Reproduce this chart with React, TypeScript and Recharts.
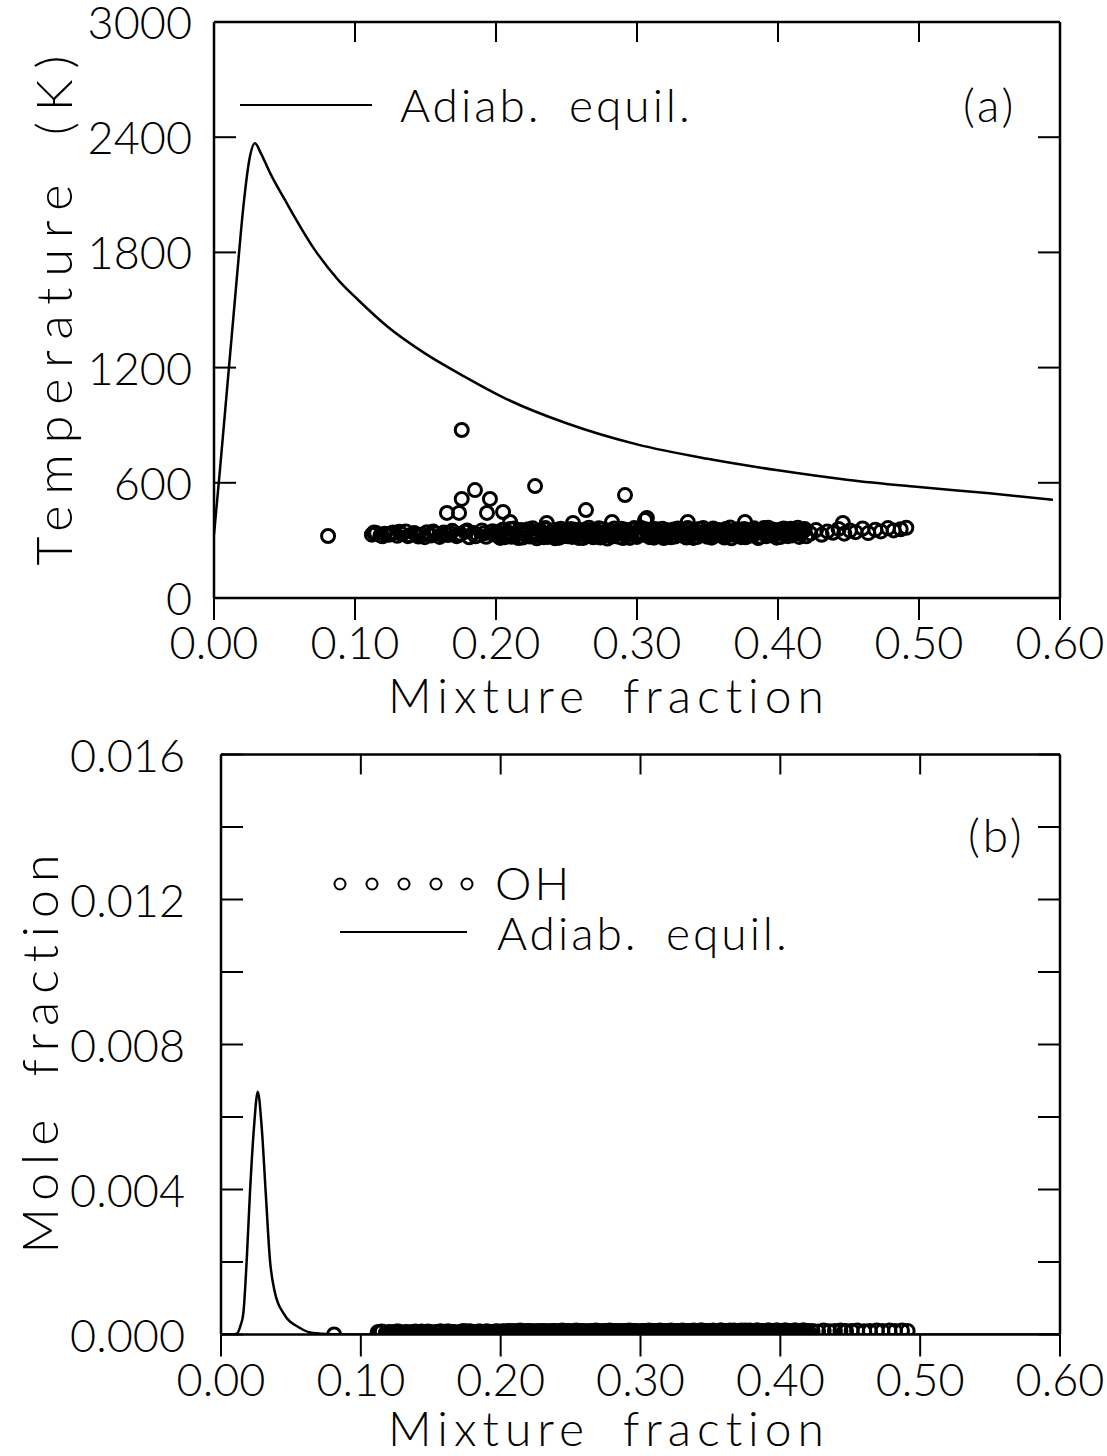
import { ComposedChart, Line, Scatter, XAxis, YAxis } from 'recharts';

const FONT = "Lato, 'DejaVu Sans', sans-serif";
const INK = '#000';

// axis ticks
const zTicks = [0, 0.1, 0.2, 0.3, 0.4, 0.5, 0.6];
const tempTicks = [0, 600, 1200, 1800, 2400, 3000];
const moleTicks = [0, 0.002, 0.004, 0.006, 0.008, 0.01, 0.012, 0.014, 0.016];
const moleLabelTicks = [0, 0.004, 0.008, 0.012, 0.016];

// (a) adiabatic equilibrium temperature [mixture fraction, K]
const tempEquil: [number, number][] = [
  [0, 330], [0.004, 650], [0.01, 1150], [0.016, 1650], [0.021, 2050],
  [0.025, 2280], [0.0291, 2368], [0.033, 2320], [0.04, 2210], [0.0504, 2072],
  [0.0716, 1812], [0.0882, 1656], [0.1023, 1552], [0.1236, 1410], [0.1496, 1274],
  [0.178, 1152], [0.2064, 1040], [0.25, 910], [0.3, 800], [0.35, 725],
  [0.4, 665], [0.45, 615], [0.5, 578], [0.55, 545], [0.595, 512],
];

// (b) adiabatic equilibrium OH [mixture fraction, mole fraction]
const ohEquil: [number, number][] = [
  [0, 0], [0.008, 0], [0.0112, 0.00002], [0.014, 0.00025], [0.016, 0.00059],
  [0.0184, 0.00206], [0.0207, 0.0039], [0.0236, 0.00572], [0.0263, 0.0067],
  [0.0291, 0.00572], [0.032, 0.0039], [0.035, 0.00206], [0.0386, 0.00115],
  [0.0446, 0.00059], [0.0565, 0.00018], [0.0658, 0.00004], [0.08, 0.00001],
  [0.1, 0], [0.6, 0],
];

// measured samples [mixture fraction, temperature K, OH mole fraction]
const samples: [number, number, number][] = [
  [0.0809, 323, 0],
  [0.1757, 875, 0.00007], [0.2277, 583, 0.00008], [0.1851, 562, 0.00006], [0.1757, 516, 0.00008],
  [0.1957, 516, 0.00007], [0.1652, 443, 0.00006], [0.1738, 443, 0.00009], [0.1936, 443, 0.00007],
  [0.205, 448, 0.00008], [0.2915, 536, 0.00009], [0.2638, 458, 0.00008], [0.236, 391, 0.00007],
  [0.2546, 391, 0.00009], [0.2823, 396, 0.00008], [0.3057, 406, 0.0001], [0.21, 396, 0.00006],
  [0.307, 417, 0.00009], [0.336, 396, 0.0001], [0.3766, 396, 0.00009], [0.446, 391, 0.0001],

  [0.112, 330, 0.00006], [0.115, 338, 0.00008], [0.118, 326, 0.00005], [0.121, 335, 0.00007],
  [0.124, 329, 0.00006], [0.127, 341, 0.00008], [0.13, 324, 0.00005], [0.133, 333, 0.00007],
  [0.136, 347, 0.00006], [0.139, 327, 0.00008], [0.142, 338, 0.00007], [0.145, 320, 0.00005],
  [0.148, 331, 0.00008], [0.151, 343, 0.00006], [0.154, 325, 0.00007], [0.157, 336, 0.00009],
  [0.16, 318, 0.00006], [0.163, 341, 0.00008], [0.166, 328, 0.00007], [0.169, 350, 0.00005],
  [0.172, 322, 0.00008], [0.175, 334, 0.00006], [0.178, 345, 0.00009], [0.181, 316, 0.00007],
  [0.184, 338, 0.00008], [0.187, 327, 0.00006], [0.19, 352, 0.00009], [0.193, 319, 0.00007],
  [0.196, 340, 0.00008], [0.199, 330, 0.00006],
  [0.1135, 341, 0.00007], [0.1195, 321, 0.00006], [0.1255, 336, 0.00008], [0.1315, 345, 0.00006],
  [0.1375, 322, 0.00007], [0.1435, 332, 0.00008], [0.1495, 317, 0.00006], [0.1555, 346, 0.00007],
  [0.1615, 330, 0.00008], [0.1675, 339, 0.00006], [0.1735, 327, 0.00009], [0.1795, 351, 0.00007],
  [0.1855, 321, 0.00008], [0.1915, 337, 0.00006], [0.1975, 348, 0.00009],

  [0.201, 344, 0.00008], [0.203, 313, 0.00007], [0.205, 356, 0.00009], [0.207, 327, 0.00006],
  [0.209, 338, 0.0001], [0.211, 319, 0.00008], [0.213, 362, 0.00007], [0.215, 333, 0.00009],
  [0.217, 348, 0.00006], [0.219, 315, 0.0001], [0.221, 340, 0.00008], [0.223, 358, 0.00007],
  [0.225, 324, 0.00009], [0.227, 345, 0.00008], [0.229, 311, 0.00006], [0.231, 352, 0.0001],
  [0.233, 330, 0.00007], [0.235, 364, 0.00009], [0.237, 318, 0.00008], [0.239, 341, 0.0001],
  [0.241, 326, 0.00007], [0.243, 355, 0.00009], [0.245, 314, 0.00006], [0.247, 337, 0.00008],
  [0.249, 349, 0.0001], [0.251, 321, 0.00007], [0.253, 360, 0.00009], [0.255, 332, 0.00008],
  [0.257, 346, 0.0001], [0.259, 312, 0.00007], [0.261, 339, 0.00009], [0.263, 357, 0.00006],
  [0.265, 323, 0.00008], [0.267, 350, 0.0001], [0.269, 316, 0.00007], [0.271, 336, 0.00009],
  [0.273, 363, 0.00008], [0.275, 328, 0.0001], [0.277, 343, 0.00007], [0.279, 310, 0.00009],
  [0.281, 353, 0.00008], [0.283, 331, 0.00006], [0.285, 347, 0.0001], [0.287, 319, 0.00008],
  [0.289, 361, 0.00009], [0.291, 334, 0.00007], [0.293, 344, 0.0001], [0.295, 313, 0.00008],
  [0.297, 356, 0.00009], [0.299, 325, 0.00007], [0.301, 340, 0.0001], [0.303, 365, 0.00008],
  [0.305, 329, 0.00009], [0.307, 351, 0.00007], [0.309, 317, 0.0001], [0.311, 338, 0.00008],
  [0.313, 359, 0.00009], [0.315, 322, 0.0001], [0.317, 345, 0.00007], [0.319, 312, 0.00009],
  [0.321, 354, 0.00008], [0.323, 333, 0.0001], [0.325, 348, 0.00007], [0.327, 320, 0.00009],
  [0.329, 362, 0.00008], [0.331, 327, 0.0001], [0.333, 342, 0.00009], [0.335, 315, 0.00007],
  [0.337, 357, 0.0001], [0.339, 335, 0.00008], [0.341, 350, 0.00009], [0.343, 318, 0.00011],
  [0.345, 339, 0.00008], [0.347, 364, 0.0001], [0.349, 326, 0.00009], [0.351, 346, 0.00007],
  [0.353, 314, 0.0001], [0.355, 355, 0.00008], [0.357, 332, 0.00011], [0.359, 349, 0.00009],
  [0.361, 321, 0.0001], [0.363, 360, 0.00008], [0.365, 337, 0.00009], [0.367, 311, 0.00011],
  [0.369, 344, 0.00008], [0.371, 358, 0.0001], [0.373, 324, 0.00009], [0.375, 347, 0.00011],
  [0.377, 316, 0.00008], [0.379, 353, 0.0001], [0.381, 330, 0.00009], [0.383, 363, 0.00011],
  [0.385, 341, 0.00008], [0.387, 319, 0.0001], [0.389, 352, 0.00009], [0.391, 334, 0.00011],
  [0.393, 366, 0.0001], [0.395, 327, 0.00008], [0.397, 345, 0.00011], [0.399, 314, 0.00009],
  [0.401, 356, 0.0001], [0.403, 338, 0.00011], [0.405, 349, 0.00008], [0.407, 322, 0.0001],
  [0.409, 361, 0.00009], [0.411, 335, 0.00011], [0.413, 351, 0.0001], [0.415, 318, 0.00008],
  [0.417, 343, 0.00011], [0.419, 359, 0.00009],

  [0.202, 329, 0.00009], [0.204, 351, 0.00007], [0.206, 317, 0.0001], [0.208, 342, 0.00008],
  [0.21, 360, 0.00006], [0.212, 325, 0.00009], [0.214, 339, 0.00011], [0.216, 312, 0.00007],
  [0.218, 354, 0.00009], [0.22, 331, 0.00008], [0.222, 347, 0.0001], [0.224, 320, 0.00007],
  [0.226, 363, 0.00009], [0.228, 336, 0.00008], [0.23, 326, 0.0001], [0.232, 343, 0.00006],
  [0.234, 316, 0.00009], [0.236, 357, 0.00008], [0.238, 333, 0.0001], [0.24, 350, 0.00007],
  [0.242, 311, 0.00009], [0.244, 340, 0.00011], [0.246, 361, 0.00008], [0.248, 323, 0.0001],
  [0.25, 345, 0.00007], [0.252, 334, 0.00009], [0.254, 318, 0.00011], [0.256, 355, 0.00008],
  [0.258, 328, 0.0001], [0.26, 348, 0.00009], [0.262, 313, 0.00007], [0.264, 341, 0.0001],
  [0.266, 366, 0.00008], [0.268, 324, 0.00011], [0.27, 352, 0.00009], [0.272, 337, 0.00007],
  [0.274, 315, 0.0001], [0.276, 358, 0.00008], [0.278, 330, 0.00011], [0.28, 346, 0.00009],
  [0.282, 320, 0.0001], [0.284, 362, 0.00008], [0.286, 335, 0.00007], [0.288, 349, 0.0001],
  [0.29, 312, 0.00009], [0.292, 356, 0.00011], [0.294, 328, 0.00008], [0.296, 339, 0.0001],
  [0.298, 364, 0.00009], [0.3, 318, 0.00007], [0.302, 347, 0.0001], [0.304, 333, 0.00008],
  [0.306, 358, 0.00011], [0.308, 326, 0.00009], [0.31, 342, 0.0001], [0.312, 314, 0.00008],
  [0.314, 351, 0.00011], [0.316, 337, 0.00009], [0.318, 361, 0.0001], [0.32, 323, 0.00008],
  [0.322, 345, 0.00011], [0.324, 316, 0.00009], [0.326, 357, 0.0001], [0.328, 340, 0.00008],
  [0.33, 330, 0.00011], [0.332, 353, 0.00009], [0.334, 321, 0.0001], [0.336, 365, 0.00008],
  [0.338, 344, 0.00011], [0.34, 313, 0.00009], [0.342, 336, 0.0001], [0.344, 359, 0.00011],
  [0.346, 327, 0.00008], [0.348, 348, 0.0001], [0.35, 319, 0.00009], [0.352, 341, 0.00011],
  [0.354, 362, 0.0001], [0.356, 325, 0.00008], [0.358, 354, 0.00011], [0.36, 334, 0.00009],
  [0.362, 315, 0.0001], [0.364, 346, 0.00011], [0.366, 367, 0.00009], [0.368, 329, 0.0001],
  [0.37, 351, 0.00008], [0.372, 338, 0.00011], [0.374, 317, 0.00009], [0.376, 360, 0.0001],
  [0.378, 343, 0.00011], [0.38, 324, 0.00009], [0.382, 355, 0.0001], [0.384, 336, 0.00011],
  [0.386, 312, 0.00008], [0.388, 348, 0.0001], [0.39, 364, 0.00009], [0.392, 322, 0.00011],
  [0.394, 340, 0.0001], [0.396, 357, 0.00009], [0.398, 331, 0.00011], [0.4, 346, 0.0001],
  [0.402, 318, 0.00008], [0.404, 362, 0.00011], [0.406, 337, 0.00009], [0.408, 353, 0.0001],
  [0.41, 326, 0.00011], [0.412, 344, 0.00009], [0.414, 366, 0.0001], [0.416, 333, 0.00011],
  [0.418, 349, 0.00009], [0.42, 321, 0.0001],

  [0.423, 336, 0.0001], [0.427, 354, 0.00008], [0.431, 329, 0.00011], [0.435, 347, 0.00009],
  [0.439, 340, 0.0001], [0.443, 360, 0.00011], [0.447, 335, 0.00009], [0.451, 351, 0.0001],
  [0.455, 343, 0.00011], [0.46, 362, 0.00009], [0.464, 338, 0.0001], [0.469, 356, 0.00011],
  [0.473, 347, 0.0001], [0.478, 364, 0.00011], [0.482, 352, 0.0001], [0.487, 358, 0.00011],
  [0.491, 366, 0.0001],
];

const curveRows = (pts: [number, number][]) => pts.map(([z, v]) => ({ z, v }));
const tempRows = samples.map(([z, t]) => ({ z, v: t }));
const ohRows = samples.map(([z, , oh]) => ({ z, v: oh }));

const TICK_TEXT = { fontFamily: FONT, fontWeight: 300, fontSize: 45, fill: INK };
const TITLE_TEXT = { fontFamily: FONT, fontWeight: 300, fontSize: 48, fill: INK, letterSpacing: 6, wordSpacing: 14 };
const VTITLE_TEXT = { ...TITLE_TEXT, fontSize: 50, letterSpacing: 11 };
const LEGEND_TEXT = { fontFamily: FONT, fontWeight: 300, fontSize: 46, fill: INK, letterSpacing: 3, wordSpacing: 12 };

// ticks: bottom ones hang below the frame, the rest point into the plot
function XBottomTick({ x, y, payload }: any) {
  return (
    <g>
      <line x1={x} y1={y} x2={x} y2={y + 22} stroke={INK} strokeWidth={2} />
      <text x={x} y={y + 61} textAnchor="middle" style={TICK_TEXT}>{payload.value.toFixed(2)}</text>
    </g>
  );
}

function XTopTick({ x, y }: any) {
  return <line x1={x} y1={y} x2={x} y2={y + 20} stroke={INK} strokeWidth={2} />;
}

function makeYLeftTick(labels: number[] | null, digits: number, gap: number) {
  return function YLeftTick({ x, y, payload }: any) {
    const show = !labels || labels.some((l) => Math.abs(l - payload.value) < 1e-9);
    return (
      <g>
        <line x1={x} y1={y} x2={x + 22} y2={y} stroke={INK} strokeWidth={2} />
        {show && (
          <text x={x - gap} y={y + 17} textAnchor="end" style={TICK_TEXT}>
            {payload.value.toFixed(digits)}
          </text>
        )}
      </g>
    );
  };
}

function YRightTick({ x, y }: any) {
  return <line x1={x} y1={y} x2={x - 22} y2={y} stroke={INK} strokeWidth={2} />;
}

const openCircle = (r: number) => (props: any) =>
  <circle cx={props.cx} cy={props.cy} r={r} fill="none" stroke={INK} strokeWidth={3} />;

const AXIS = { stroke: INK, strokeWidth: 2.5 };

function Panel({ top, height, topAxisHeight, margin, yDomain, yTicks, yTick, curve, points }: any) {
  return (
    <div style={{ position: 'absolute', left: 0, top, width: 1107, height }}>
      <ComposedChart width={1107} height={height} margin={margin}>
        <XAxis
          xAxisId="b" dataKey="z" type="number" domain={[0, 0.6]} ticks={zTicks} interval={0}
          allowDataOverflow orientation="bottom" height={30} tickSize={0} tickMargin={0}
          axisLine={AXIS} tickLine={false} tick={<XBottomTick />}
        />
        <XAxis
          xAxisId="t" dataKey="z" type="number" domain={[0, 0.6]} ticks={zTicks} interval={0}
          allowDataOverflow orientation="top" height={topAxisHeight} tickSize={0} tickMargin={0}
          axisLine={AXIS} tickLine={false} tick={<XTopTick />}
        />
        <YAxis
          yAxisId="l" type="number" domain={yDomain} ticks={yTicks} interval={0} allowDataOverflow
          orientation="left" width={20} tickSize={0} tickMargin={0}
          axisLine={AXIS} tickLine={false} tick={yTick}
        />
        <YAxis
          yAxisId="r" type="number" domain={yDomain} ticks={yTicks} interval={0} allowDataOverflow
          orientation="right" width={20} tickSize={0} tickMargin={0}
          axisLine={AXIS} tickLine={false} tick={<YRightTick />}
        />
        <Line
          xAxisId="b" yAxisId="l" data={curveRows(curve)} dataKey="v" type="monotone"
          stroke={INK} strokeWidth={2.5} dot={false} isAnimationActive={false}
        />
        <Scatter
          xAxisId="b" yAxisId="l" data={points} dataKey="v"
          shape={openCircle(6.5)} isAnimationActive={false}
        />
      </ComposedChart>
    </div>
  );
}

function Overlay() {
  return (
    <svg width={1107} height={1456} style={{ position: 'absolute', left: 0, top: 0, pointerEvents: 'none' }}>
      {/* panel (a) */}
      <line x1={240} y1={105} x2={372} y2={105} stroke={INK} strokeWidth={2} />
      <text x={400} y={122} style={LEGEND_TEXT}>Adiab. equil.</text>
      <text x={963} y={122} style={LEGEND_TEXT}>(a)</text>
      <text x={609} y={713} textAnchor="middle" style={TITLE_TEXT}>Mixture fraction</text>
      <text transform="translate(72,305) rotate(-90)" textAnchor="middle" style={VTITLE_TEXT}>Temperature (K)</text>
      {/* panel (b) */}
      {[340, 372, 404, 436, 467].map((cx) => (
        <circle key={cx} cx={cx} cy={884} r={5.5} fill="none" stroke={INK} strokeWidth={2} />
      ))}
      <text x={495} y={900} style={LEGEND_TEXT}>OH</text>
      <line x1={340} y1={932} x2={467} y2={932} stroke={INK} strokeWidth={2} />
      <text x={497} y={950} style={LEGEND_TEXT}>Adiab. equil.</text>
      <text x={968} y={852} style={LEGEND_TEXT}>(b)</text>
      <text x={609} y={1446} textAnchor="middle" style={TITLE_TEXT}>Mixture fraction</text>
      <text transform="translate(58,1050) rotate(-90)" textAnchor="middle" style={{ ...VTITLE_TEXT, letterSpacing: 8 }}>Mole fraction</text>
    </svg>
  );
}

export default function App() {
  return (
    <div style={{ position: 'absolute', left: 0, top: 0, width: 1107, height: 1456, background: '#fff' }}>
      <Panel
        top={0} height={720} topAxisHeight={20}
        margin={{ top: 2, right: 27, bottom: 92, left: 194 }}
        yDomain={[0, 3000]} yTicks={tempTicks} yTick={makeYLeftTick(null, 0, 22)}
        curve={tempEquil} points={tempRows}
      />
      <Panel
        top={740} height={716} topAxisHeight={10}
        margin={{ top: 4.5, right: 27, bottom: 91.5, left: 201 }}
        yDomain={[0, 0.016]} yTicks={moleTicks} yTick={makeYLeftTick(moleLabelTicks, 3, 36)}
        curve={ohEquil} points={ohRows}
      />
      <Overlay />
    </div>
  );
}
